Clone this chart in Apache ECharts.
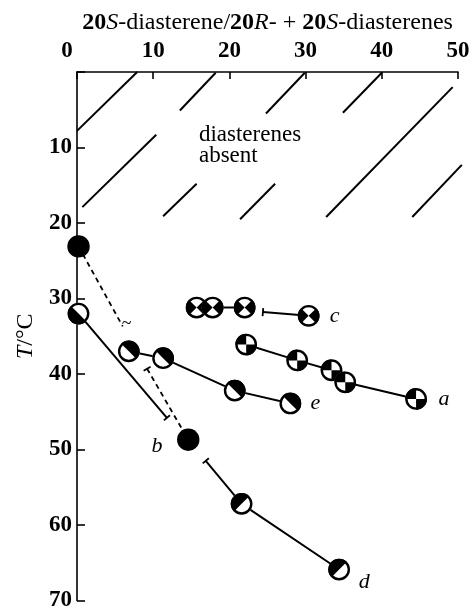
<!DOCTYPE html>
<html><head><meta charset="utf-8">
<script src="https://cdn.jsdelivr.net/npm/echarts@6/dist/echarts.min.js"></script>
<style>html,body{margin:0;padding:0;background:#fff}#c{width:474px;height:612px}</style>
</head><body><div id="c"></div><script>
// ---- data (x: 20S/(20R+20S) %, y: T / °C) ----
const xTicks = [0, 10, 20, 30, 40, 50];
const yTicks = [0, 10, 20, 30, 40, 50, 60, 70];
const aPoints = [[22.2, 36.1], [28.9, 38.2], [33.4, 39.5], [35.2, 41.1], [44.5, 43.3]];
const ePoints = [[6.8, 37.0], [11.3, 37.9], [20.7, 42.2], [28.0, 43.9]];
const cPoints = [[15.7, 31.2], [17.8, 31.2], [22.0, 31.2], [30.4, 32.3]];
const cLineA = [[15.7, 31.2], [17.8, 31.2], [22.0, 31.2]];
const cLineB = [[24.4, 31.8], [30.4, 32.3]];
const dPoints = [[21.6, 57.2], [34.4, 65.9]];
const dLine = [[16.9, 51.5], [21.6, 57.2], [34.4, 65.9]];
const bOpenPoints = [[0.2, 32.0]];
const bFilledPoints = [[0.2, 23.1], [14.6, 48.7]];
const bSolidLine = [[0.2, 32.0], [11.8, 45.8]];
const bDashUpper = [[0.2, 23.1], [6.0, 33.7]];
const bDashLower = [[9.2, 39.3], [14.6, 48.7]];
const seriesLetters = ['a', 'b', 'c', 'd', 'e'];
const regionText = 'diasterenes\nabsent';
const regionTextAnchor = [16.0, 9.7];
// hatching of the "diasterenes absent" region: [x1, y1, x2, y2]
const hatchSegments = [
  [0.0, 7.8, 7.9, 0.0], [13.5, 5.1, 18.2, 0.1], [24.8, 5.5, 29.9, 0.1], [34.9, 5.4, 40.0, 0.1],
  [32.7, 19.2, 49.3, 2.0], [0.7, 17.9, 10.4, 8.3], [11.3, 19.1, 15.7, 14.8],
  [21.4, 19.5, 26.0, 14.8], [44.0, 19.2, 50.5, 12.3]
];

const SERIF = 'Liberation Serif';
const P = Math.PI;
const patHalfE = [[-3 * P / 4, P / 4]];
const patHalfB = [[P / 4, 5 * P / 4]];
const patHalfD = [[3 * P / 4, 7 * P / 4]];
const patQuad = [[P, 3 * P / 2], [0, P / 2]];
const patX = [[3 * P / 4, 5 * P / 4], [-P / 4, P / 4]];

function lineSeries(data, dashed) {
  return {type: 'line', data, symbol: 'none', z: 3, silent: true,
    lineStyle: {color: '#000', width: dashed ? 1.8 : 2, type: dashed ? [5, 4] : 'solid'}};
}
function markerSeries(data, pattern, filled) {
  return {type: 'custom', coordinateSystem: 'cartesian2d', data, z: 10, encode: {x: 0, y: 1},
    renderItem: (params, api) => {
      const p = api.coord([api.value(0), api.value(1)]);
      const r = 10.8, ch = [];
      if (filled) {
        ch.push({type: 'circle', shape: {cx: p[0], cy: p[1], r: 11.2}, style: {fill: '#000'}});
      } else {
        ch.push({type: 'circle', shape: {cx: p[0], cy: p[1], r}, style: {fill: '#fff'}});
        pattern.forEach(([s, e]) => ch.push({type: 'sector',
          shape: {cx: p[0], cy: p[1], r0: 0, r, startAngle: s, endAngle: e, clockwise: true}, style: {fill: '#000'}}));
        ch.push({type: 'circle', shape: {cx: p[0], cy: p[1], r: r - 1.1}, style: {fill: 'none', stroke: '#000', lineWidth: 2.4}});
      }
      return {type: 'group', children: ch};
    }};
}
// end ticks: [x, y, neighbourX, neighbourY, kind]
const tickData = [
  [...bSolidLine[1], ...bSolidLine[0], 0],
  [...bDashLower[0], ...bDashLower[1], 0],
  [...cLineB[0], ...cLineB[1], 0],
  [...dLine[0], ...dLine[1], 0],
  [...bDashUpper[1], ...bDashUpper[0], 1]
];
const tickSeries = {type: 'custom', coordinateSystem: 'cartesian2d', data: tickData, z: 5, encode: {x: 0, y: 1},
  renderItem: (params, api) => {
    const p = api.coord([api.value(0), api.value(1)]);
    const q = api.coord([api.value(2), api.value(3)]);
    if (api.value(4) === 1) {
      return {type: 'text', style: {x: p[0] + 4, y: p[1] - 2, text: '~', fill: '#000',
        font: '18px ' + SERIF, align: 'center', verticalAlign: 'middle'}};
    }
    const dx = q[0] - p[0], dy = q[1] - p[1], L = Math.hypot(dx, dy);
    const nx = -dy / L * 4, ny = dx / L * 4;
    return {type: 'line', shape: {x1: p[0] - nx, y1: p[1] - ny, x2: p[0] + nx, y2: p[1] + ny},
      style: {stroke: '#000', lineWidth: 1.8}};
  }};
const hatchSeries = {type: 'custom', coordinateSystem: 'cartesian2d', data: hatchSegments, z: 2, clip: false,
  encode: {x: [0, 2], y: [1, 3]},
  renderItem: (params, api) => {
    const p = api.coord([api.value(0), api.value(1)]);
    const q = api.coord([api.value(2), api.value(3)]);
    return {type: 'line', shape: {x1: p[0], y1: p[1], x2: q[0], y2: q[1]}, style: {stroke: '#000', lineWidth: 2}};
  }};
const letterAnchors = [aPoints[aPoints.length - 1], bSolidLine[1], cPoints[cPoints.length - 1], dPoints[dPoints.length - 1], ePoints[ePoints.length - 1]];
const letterOffsets = [[28, 0], [-10, 28], [26, 0], [25, 13], [25, 0]];
const letterSeries = {type: 'custom', coordinateSystem: 'cartesian2d', z: 12, encode: {x: 0, y: 1},
  data: letterAnchors.map((pt, i) => [pt[0], pt[1], i]),
  renderItem: (params, api) => {
    const p = api.coord([api.value(0), api.value(1)]);
    const i = api.value(2);
    return {type: 'text', style: {x: p[0] + letterOffsets[i][0], y: p[1] + letterOffsets[i][1],
      text: seriesLetters[i], fill: '#000', font: 'italic 22px ' + SERIF, align: 'center', verticalAlign: 'middle'}};
  }};
const regionSeries = {type: 'custom', coordinateSystem: 'cartesian2d', z: 12, encode: {x: 0, y: 1},
  data: [regionTextAnchor],
  renderItem: (params, api) => {
    const p = api.coord([api.value(0), api.value(1)]);
    return {type: 'text', style: {x: p[0], y: p[1], text: regionText, fill: '#000',
      font: '23px ' + SERIF, lineHeight: 21, align: 'left', verticalAlign: 'middle'}};
  }};

const chart = echarts.init(document.getElementById('c'), null, {renderer: 'canvas'});
chart.setOption({
  animation: false,
  backgroundColor: '#fff',
  grid: {left: 77, top: 72, width: 381, height: 531, containLabel: false},
  xAxis: {
    type: 'value', position: 'top', min: xTicks[0], max: xTicks[xTicks.length - 1], interval: xTicks[1] - xTicks[0],
    name: '{b|20}{i|S}-diasterene/{b|20}{i|R}- + {b|20}{i|S}-diasterenes',
    nameLocation: 'middle', nameGap: 34,
    nameTextStyle: {fontFamily: SERIF, fontSize: 24, color: '#000',
      rich: {b: {fontFamily: SERIF, fontSize: 24, fontWeight: 'bold', color: '#000'},
             i: {fontFamily: SERIF, fontSize: 24, fontStyle: 'italic', color: '#000'}}},
    axisLine: {show: true, onZero: false, lineStyle: {color: '#000', width: 1.6}},
    axisTick: {show: true, inside: true, length: 7, lineStyle: {color: '#000', width: 1.6}},
    axisLabel: {fontFamily: SERIF, fontSize: 23, fontWeight: 'bold', color: '#000', margin: 9,
      formatter: v => v === 0 ? '{z|0}' : String(v),
      rich: {z: {fontFamily: SERIF, fontSize: 23, fontWeight: 'bold', color: '#000', padding: [0, 20, 0, 0]}}},
    splitLine: {show: false}
  },
  yAxis: {
    type: 'value', inverse: true, min: yTicks[0], max: yTicks[yTicks.length - 1], interval: yTicks[1] - yTicks[0],
    name: '{i|T}/°C', nameLocation: 'middle', nameGap: 38, nameRotate: 90,
    nameTextStyle: {fontFamily: SERIF, fontSize: 24, color: '#000',
      rich: {i: {fontFamily: SERIF, fontSize: 24, fontStyle: 'italic', color: '#000'}}},
    axisLine: {show: true, onZero: false, lineStyle: {color: '#000', width: 1.6}},
    axisTick: {show: true, inside: true, length: 8, lineStyle: {color: '#000', width: 1.6}},
    axisLabel: {fontFamily: SERIF, fontSize: 23, fontWeight: 'bold', color: '#000', margin: 5,
      formatter: v => v === 0 ? '' : String(v)},
    splitLine: {show: false}
  },
  series: [
    hatchSeries,
    lineSeries(aPoints), lineSeries(ePoints), lineSeries(cLineA), lineSeries(cLineB),
    lineSeries(dLine), lineSeries(bSolidLine), lineSeries(bDashUpper, true), lineSeries(bDashLower, true),
    tickSeries,
    markerSeries(aPoints, patQuad), markerSeries(ePoints, patHalfE), markerSeries(cPoints, patX),
    markerSeries(dPoints, patHalfD), markerSeries(bOpenPoints, patHalfB), markerSeries(bFilledPoints, null, true),
    letterSeries, regionSeries
  ]
});
</script></body></html>
